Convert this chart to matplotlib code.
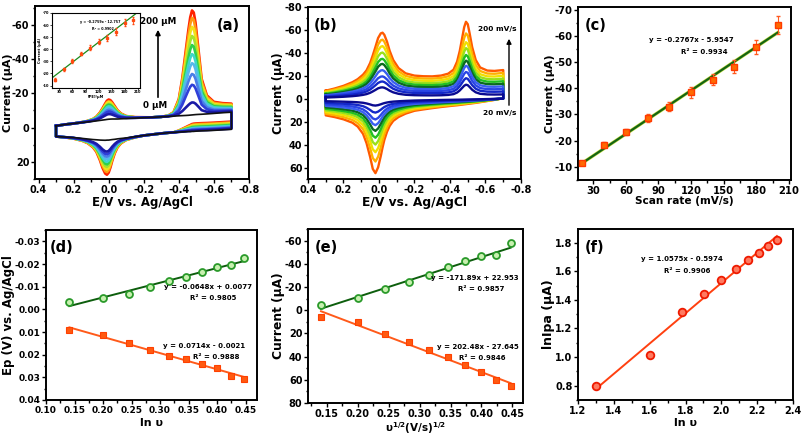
import numpy as np
import matplotlib
matplotlib.use('Agg')
import matplotlib.pyplot as plt
from matplotlib.ticker import MultipleLocator, FormatStrFormatter

plt.rcParams['font.family'] = ['DejaVu Sans']
plt.rcParams['font.weight'] = 'bold'
plt.rcParams['axes.labelweight'] = 'bold'
plt.rcParams['axes.unicode_minus'] = False
plt.rcParams['mathtext.fontset'] = 'dejavusans'
plt.rcParams['mathtext.default'] = 'bf'

W, H = 803, 438

# ---------------- Panel (a) data : CVs at increasing concentration ----------------
E_a = [0.30, 0.25, 0.20, 0.15, 0.12, 0.09, 0.07, 0.05, 0.035, 0.02, 0.01, 0.00, -0.01, -0.02,
       -0.035, -0.05, -0.07, -0.10, -0.15, -0.20, -0.25, -0.30, -0.34, -0.37, -0.40, -0.42,
       -0.44, -0.455, -0.465, -0.475, -0.485, -0.495, -0.51, -0.53, -0.56, -0.60, -0.65, -0.70]
base_up_a = [-1.0, -1.8, -2.4, -3.0, -3.3, -3.6, -3.8, -4.0, -4.1, -4.2, -4.3, -4.4, -4.5, -4.6,
             -4.7, -4.8, -5.0, -5.2, -5.5, -5.8, -6.0, -6.3, -6.5, -6.7, -6.9, -7.0,
             -7.1, -7.2, -7.3, -7.4, -7.5, -7.6, -7.7, -7.8, -8.0, -8.3, -8.7, -9.0]
prof1_a = [0, 0, 0, 0.02, 0.05, 0.12, 0.22, 0.40, 0.60, 0.82, 0.95, 1.0, 0.96, 0.85,
           0.65, 0.45, 0.27, 0.13, 0.05, 0.02, 0, 0, 0, 0, 0, 0,
           0, 0, 0, 0, 0, 0, 0, 0, 0, 0, 0, 0]
prof2_a = [0, 0, 0, 0, 0, 0, 0, 0, 0, 0, 0, 0, 0, 0,
           0, 0, 0, 0, 0, 0, 0, 0, 0.01, 0.04, 0.17, 0.38,
           0.66, 0.85, 0.95, 1.0, 0.96, 0.85, 0.60, 0.27, 0.10, 0.03, 0.01, 0]
tail_up_a = [0, 0, 0, 0, 0, 0, 0, 0, 0, 0, 0, 0, 0, 0,
             0, 0, 0, 0, 0, 0, 0, 0, 0, 0, 0, 0,
             0, 0.2, 0.4, 0.6, 0.8, 0.9, 1, 1, 1, 1, 1, 1]
base_dn_a = [5.2, 5.5, 5.8, 6.3, 6.6, 6.9, 7.0, 7.1, 7.1, 7.1, 7.0, 7.0, 6.9, 6.8,
             6.7, 6.5, 6.3, 6.0, 5.3, 4.6, 4.0, 3.4, 3.0, 2.8, 2.6, 2.5,
             2.4, 2.3, 2.3, 2.2, 2.2, 2.1, 2.0, 1.9, 1.8, 1.6, 1.3, 1.0]
prof3_a = [0, 0.01, 0.03, 0.07, 0.12, 0.22, 0.35, 0.58, 0.80, 0.96, 1.0, 0.94, 0.80, 0.62,
           0.40, 0.25, 0.14, 0.06, 0.02, 0, 0, 0, 0, 0, 0, 0,
           0, 0, 0, 0, 0, 0, 0, 0, 0, 0, 0, 0]
tail_dn_a = [0, 0, 0, 0, 0, 0, 0, 0, 0, 0, 0, 0, 0, 0,
             0, 0, 0, 0, 0, 0, 0, 0, 0, 0, 0.2, 0.4,
             0.6, 0.75, 0.85, 0.95, 1, 1, 1, 1, 1, 1, 1, 1]
conc_a = [0, 20, 40, 60, 80, 100, 120, 140, 160, 180, 200]
h1_a = [0.5, 3.5, 5, 6, 7, 8, 9, 9.5, 10.5, 11, 12]
h2_a = [0, 7, 17, 23, 29, 34, 39, 44, 49, 54, 58]
tu_a = [0, 0.5, 1, 1.5, 2, 2.5, 3, 3.5, 4, 4.5, 5]
h3_a = [0.3, 7, 8.5, 10, 11.5, 13, 14.5, 16, 17.5, 19, 20.5]
td_a = [0, 0.4, 0.8, 1.2, 1.6, 2.0, 2.5, 3.0, 3.5, 4.0, 4.5]
colors_a = ['#111111', '#1a1aa6', '#2f3fd8', '#4a7ee8', '#55b8ec', '#3ed6c8',
            '#2fd04a', '#a6e22e', '#f2e21a', '#ff9a12', '#ff2200']

# inset (a)
conc_in = [20, 40, 60, 80, 100, 120, 140, 160, 180, 200]
ipa_in = [-15, -23.3, -30.3, -36.4, -41.4, -46.4, -49.7, -54.7, -62, -64]
err_in = [1, 1.5, 1.5, 1.5, 2, 2, 2.5, 2.5, 3, 3]
slope_in, icpt_in = -0.2759, -12.757

# ---------------- Panel (b) data : CVs at increasing scan rate ----------------
E_b = [0.30, 0.25, 0.20, 0.15, 0.12, 0.09, 0.07, 0.05, 0.035, 0.02, 0.005, -0.01, -0.02, -0.03,
       -0.045, -0.06, -0.08, -0.11, -0.15, -0.20, -0.25, -0.30, -0.35, -0.39, -0.42, -0.44,
       -0.455, -0.47, -0.48, -0.49, -0.50, -0.51, -0.525, -0.545, -0.57, -0.61, -0.65, -0.70]
base_up_b = [-7, -8.5, -10, -11.5, -12.5, -13.5, -14, -14.5, -15, -15.3, -15.6, -15.9, -16.1, -16.3,
             -16.6, -16.9, -17.2, -17.6, -18.0, -18.5, -19.0, -19.5, -20.2, -20.5, -20.8, -21.0,
             -21.2, -21.4, -21.5, -21.6, -21.8, -22.0, -22.2, -22.4, -22.7, -23.2, -23.8, -25.0]
prof1_b = [0, 0.01, 0.03, 0.07, 0.11, 0.18, 0.26, 0.40, 0.55, 0.72, 0.90, 0.99, 1.0, 0.95,
           0.80, 0.60, 0.40, 0.22, 0.10, 0.04, 0.015, 0, 0, 0, 0, 0,
           0, 0, 0, 0, 0, 0, 0, 0, 0, 0, 0, 0]
prof2_b = [0, 0, 0, 0, 0, 0, 0, 0, 0, 0, 0, 0, 0, 0,
           0, 0, 0, 0, 0, 0, 0, 0, 0, 0.03, 0.10, 0.25,
           0.45, 0.72, 0.90, 1.0, 0.95, 0.78, 0.50, 0.25, 0.10, 0.03, 0.01, 0]
base_dn_b = [14.5, 15.5, 16.5, 17, 17, 17, 17, 16.8, 16.6, 16.4, 16.2, 16.0, 15.8, 15.6,
             15.3, 15.0, 14.5, 13.5, 12.0, 10.5, 9.3, 8.2, 7.2, 6.5, 6.0, 5.7,
             5.4, 5.1, 4.9, 4.7, 4.5, 4.3, 4.0, 3.6, 3.0, 2.0, 1.0, -0.5]
prof3_b = [0, 0.01, 0.03, 0.08, 0.15, 0.28, 0.45, 0.70, 0.92, 1.0, 0.90, 0.70, 0.55, 0.42,
           0.28, 0.18, 0.10, 0.05, 0.02, 0, 0, 0, 0, 0, 0, 0,
           0, 0, 0, 0, 0, 0, 0, 0, 0, 0, 0, 0]
rate_b = [20, 40, 60, 80, 100, 120, 140, 160, 180, 200]
cap_b = [0.15, 0.25, 0.34, 0.43, 0.52, 0.61, 0.70, 0.80, 0.90, 1.0]
h1_b = [7.5, 11, 14, 18, 22, 25, 29, 33, 37, 41.5]
h2_b = [9, 12.5, 16, 19.5, 22, 25, 29, 32, 37.5, 45.5]
h3_b = [3.5, 8, 12.5, 16, 19.5, 24, 28.5, 33.5, 40, 48.5]
colors_b = ['#0a0a90', '#1428c8', '#2a46e6', '#3a60f0', '#0b6b1e', '#22c022',
            '#9be01a', '#f0e000', '#ffb000', '#ff5a00']

# ---------------- Panel (c) ----------------
scan_c = [20, 40, 60, 80, 100, 120, 140, 160, 180, 200]
ipa_c = [-11.6, -18.5, -23.3, -28.7, -33.0, -38.4, -43.2, -48.2, -55.7, -64.1]
err_c = [0.5, 1.0, 1.0, 1.4, 1.6, 2.0, 2.1, 2.4, 2.7, 3.5]
slope_c, icpt_c = -0.2767, -5.9547

# ---------------- Panels (d), (e), (f) ----------------
sqrt_v = [0.141, 0.200, 0.245, 0.283, 0.316, 0.346, 0.374, 0.400, 0.424, 0.447]
epa_d = [-0.0032, -0.0050, -0.0069, -0.0100, -0.0126, -0.0141, -0.0164, -0.0187, -0.0197, -0.0226]
epc_d = [0.0090, 0.0115, 0.0149, 0.0179, 0.0204, 0.0220, 0.0241, 0.0257, 0.0292, 0.0307]
fit_da = (-0.0648, 0.0077)
fit_dc = (0.0714, -0.0021)

ipa_e = [-4.8, -10.5, -18.6, -24.0, -30.7, -37.0, -42.2, -47.0, -47.6, -58.0]
ipc_e = [6.1, 10.2, 20.2, 27.4, 34.6, 40.6, 47.5, 53.3, 60.0, 65.6]
fit_ea = (-171.89, 22.953)
fit_ec = (202.48, -27.645)

lnv_f = [1.30, 1.603, 1.78, 1.903, 2.00, 2.08, 2.148, 2.208, 2.26, 2.31]
lnipa_f = [0.80, 1.015, 1.315, 1.443, 1.540, 1.613, 1.676, 1.730, 1.777, 1.816]
fit_f = (1.0575, -0.5974)

# ---------------- figure ----------------
fig = plt.figure(figsize=(W / 100, H / 100), dpi=100)


def add_ax(l, t, r, b):
    ax = fig.add_axes([l / W, 1 - b / H, (r - l) / W, (b - t) / H])
    ax._px = (l, t, r, b)
    return ax


def style(ax, tick_fs=7.0, lw=1.4):
    for s in ax.spines.values():
        s.set_linewidth(lw)
    ax.tick_params(which='both', direction='out', width=1.0, labelsize=tick_fs, pad=1)
    ax.tick_params(which='major', length=3)
    ax.tick_params(which='minor', length=1.8)
    for lab in ax.get_xticklabels() + ax.get_yticklabels():
        lab.set_fontweight('bold')


def labels(ax, xl, yl, xfs, yfs, x_top_px, y_right_px):
    l, t, r, b = ax._px
    ax.set_xlabel(xl, fontsize=xfs)
    ax.set_ylabel(yl, fontsize=yfs)
    ax.xaxis.set_label_coords(0.5, -(x_top_px - b) / (b - t))
    ax.yaxis.set_label_coords((y_right_px - l) / (r - l), 0.5)


def ftext(x, y, s, fs=5.0, **kw):
    fig.text(x / W, 1 - y / H, s, fontsize=fs, fontweight='bold', ha='center', va='center', **kw)


# ----- (a)
ax = add_ax(35, 6, 249, 179)
Ea = np.array(E_a)
for k in range(len(conc_a) - 1, -1, -1):
    up = np.array(base_up_a) - h1_a[k] * np.array(prof1_a) - h2_a[k] * np.array(prof2_a) \
        - tu_a[k] * np.array(tail_up_a)
    dn = np.array(base_dn_a) + h3_a[k] * np.array(prof3_a) - td_a[k] * np.array(tail_dn_a)
    xs = np.concatenate([Ea, Ea[::-1]])
    ys = np.concatenate([up, dn[::-1]])
    ax.plot(np.append(xs, xs[0]), np.append(ys, ys[0]), color=colors_a[k],
            lw=1.9 if k else 1.2, solid_joinstyle='round', zorder=3 + (10 - k))
ax.set_xlim(0.42, -0.8)
ax.set_ylim(30, -71)
ax.xaxis.set_major_locator(MultipleLocator(0.2))
ax.xaxis.set_minor_locator(MultipleLocator(0.1))
ax.xaxis.set_major_formatter(FormatStrFormatter('%.1f'))
ax.yaxis.set_major_locator(MultipleLocator(20))
ax.yaxis.set_minor_locator(MultipleLocator(10))
style(ax, tick_fs=6.9)
labels(ax, 'E/V vs. Ag/AgCl', 'Current (µA)', 8.5, 8.0, 196, 13.5)
ax.annotate('', xy=(158 / W, 1 - 27 / H), xytext=(158 / W, 1 - 100 / H),
            xycoords='figure fraction', textcoords='figure fraction',
            arrowprops=dict(arrowstyle='-|>', color='black', lw=1.2, mutation_scale=7))
ftext(158, 22, '200 µM', fs=6.3)
ftext(155, 106, '0 µM', fs=6.3)
ftext(228, 25, '(a)', fs=10.5)

# inset
axi = add_ax(52, 13, 140, 88)
axi.plot([15, 210], [slope_in * 15 + icpt_in, slope_in * 210 + icpt_in], color='#1a8a1a', lw=0.9)
axi.errorbar(conc_in, ipa_in, yerr=err_in, fmt='s', ms=2, color='#ff4a10', ecolor='#ff4a10',
             elinewidth=0.6, capsize=1)
axi.set_xlim(13, 215)
axi.set_ylim(-8, -70)
axi.xaxis.set_major_locator(MultipleLocator(30))
axi.yaxis.set_major_locator(MultipleLocator(10))
for s in axi.spines.values():
    s.set_linewidth(0.8)
axi.tick_params(which='both', direction='out', width=0.5, length=1.2, labelsize=2.6, pad=0.5)
axi.set_xlabel('[PE]/µM', fontsize=2.6, labelpad=0.5)
axi.set_ylabel('Current (µA)', fontsize=2.6, labelpad=0.5)
axi.text(0.55, 0.86, 'y = -0.2759x - 12.757', transform=axi.transAxes, fontsize=2.4,
         ha='center', fontweight='bold')
axi.text(0.58, 0.78, 'R² = 0.9902', transform=axi.transAxes, fontsize=2.4,
         ha='center', fontweight='bold')

# ----- (b)
ax = add_ax(308, 7, 521, 179)
Eb = np.array(E_b)
for k in range(len(rate_b) - 1, -1, -1):
    up = cap_b[k] * np.array(base_up_b) - h1_b[k] * np.array(prof1_b) - h2_b[k] * np.array(prof2_b)
    dn = cap_b[k] * np.array(base_dn_b) + h3_b[k] * np.array(prof3_b)
    xs = np.concatenate([Eb, Eb[::-1]])
    ys = np.concatenate([up, dn[::-1]])
    ax.plot(np.append(xs, xs[0]), np.append(ys, ys[0]), color=colors_b[k], lw=1.7,
            solid_joinstyle='round')
ax.set_xlim(0.4, -0.8)
ax.set_ylim(70, -80)
ax.xaxis.set_major_locator(MultipleLocator(0.2))
ax.xaxis.set_minor_locator(MultipleLocator(0.1))
ax.xaxis.set_major_formatter(FormatStrFormatter('%.1f'))
ax.yaxis.set_major_locator(MultipleLocator(20))
ax.yaxis.set_minor_locator(MultipleLocator(10))
style(ax)
labels(ax, 'E/V vs. Ag/AgCl', 'Current (µA)', 8.8, 8.3, 196, 285)
ax.annotate('', xy=(509 / W, 1 - 36 / H), xytext=(509 / W, 1 - 108 / H),
            xycoords='figure fraction', textcoords='figure fraction',
            arrowprops=dict(arrowstyle='-|>', color='black', lw=1.0, mutation_scale=7))
ftext(497, 29, '200 mV/s', fs=5.3)
ftext(500, 113, '20 mV/s', fs=5.3)
ftext(326, 25, '(b)', fs=10.5)

# ----- (c)
ax = add_ax(578, 7, 791, 180)
ax.plot([scan_c[0], scan_c[-1]], [slope_c * scan_c[0] + icpt_c, slope_c * scan_c[-1] + icpt_c],
        color='#c8e040', lw=2.4, zorder=2)
ax.plot([scan_c[0], scan_c[-1]], [slope_c * scan_c[0] + icpt_c, slope_c * scan_c[-1] + icpt_c],
        color='#146414', lw=1.6, zorder=3)
ax.errorbar(scan_c, ipa_c, yerr=err_c, fmt='s', ms=4.5, mfc='#ff6a00', mec='#ff3a00',
            ecolor='#ff5a20', elinewidth=0.8, capsize=1.5, zorder=4)
ax.set_xlim(16, 212)
ax.set_ylim(-5, -71)
ax.xaxis.set_major_locator(MultipleLocator(30))
ax.xaxis.set_minor_locator(MultipleLocator(15))
ax.yaxis.set_major_locator(MultipleLocator(10))
ax.yaxis.set_minor_locator(MultipleLocator(5))
style(ax, tick_fs=7.2)
labels(ax, 'Scan rate (mV/s)', 'Current (µA)', 7.6, 8.0, 196, 555)
ftext(691, 40, 'y = -0.2767x - 5.9547')
ftext(704, 52, 'R² = 0.9934')
ftext(596, 25, '(c)', fs=10.5)

xd = np.array([sqrt_v[0], sqrt_v[-1]])

# ----- (d)
ax = add_ax(46, 230, 257, 400)
ax.plot(xd, fit_da[0] * xd + fit_da[1], color='#0d5e0d', lw=1.4)
ax.plot(xd, fit_dc[0] * xd + fit_dc[1], color='#ff5a1a', lw=1.4)
ax.plot(sqrt_v, epa_d, 'o', ms=5, mfc='#c8f0b0', mec='#2a9a2a', mew=1.3)
ax.plot(sqrt_v, epc_d, 's', ms=5, mfc='#ff5a10', mec='#ff4000', mew=0.8)
ax.set_xlim(0.10, 0.47)
ax.set_ylim(0.04, -0.035)
ax.xaxis.set_major_locator(MultipleLocator(0.05))
ax.xaxis.set_minor_locator(MultipleLocator(0.025))
ax.xaxis.set_major_formatter(FormatStrFormatter('%.2f'))
ax.yaxis.set_major_locator(MultipleLocator(0.01))
ax.yaxis.set_minor_locator(MultipleLocator(0.005))
ax.yaxis.set_major_formatter(FormatStrFormatter('%.2f'))
style(ax, tick_fs=6.5)
labels(ax, 'ln υ', 'Ep (V) vs. Ag/AgCl', 8, 8.5, 418, 15)
ftext(208, 287, 'y = -0.0648x + 0.0077')
ftext(213, 298, 'R² = 0.9805')
ftext(204, 346, 'y = 0.0714x - 0.0021')
ftext(216, 357, 'R² = 0.9888')
ftext(62, 247, '(d)', fs=10.5)

# ----- (e)
ax = add_ax(308, 229, 523, 403)
ax.plot(xd, fit_ea[0] * xd + fit_ea[1], color='#0d5e0d', lw=1.4)
ax.plot(xd, fit_ec[0] * xd + fit_ec[1], color='#ff5a1a', lw=1.4)
ax.plot(sqrt_v, ipa_e, 'o', ms=5, mfc='#c8f0b0', mec='#2a9a2a', mew=1.3)
ax.plot(sqrt_v, ipc_e, 's', ms=5, mfc='#ff5a10', mec='#ff4000', mew=0.8)
ax.set_xlim(0.12, 0.467)
ax.set_ylim(80, -70)
ax.xaxis.set_major_locator(MultipleLocator(0.05))
ax.xaxis.set_minor_locator(MultipleLocator(0.025))
ax.xaxis.set_major_formatter(FormatStrFormatter('%.2f'))
ax.yaxis.set_major_locator(MultipleLocator(20))
ax.yaxis.set_minor_locator(MultipleLocator(10))
style(ax)
labels(ax, r'υ$^{1/2}$(V/s)$^{1/2}$', 'Current (µA)', 7.5, 8.8, 420, 285)
ftext(475, 278, 'y = -171.89x + 22.953')
ftext(481, 289, 'R² = 0.9857')
ftext(478, 347, 'y = 202.48x - 27.645')
ftext(482, 358, 'R² = 0.9846')
ftext(326, 247, '(e)', fs=10.5)

# ----- (f)
ax = add_ax(578, 229, 793, 400)
xf = np.array([lnv_f[0], lnv_f[-1]])
ax.plot(xf, fit_f[0] * xf + fit_f[1], color='#ff4010', lw=1.4)
ax.plot(lnv_f, lnipa_f, 'o', ms=5.5, mfc='#ff7a60', mec='#ee1a00', mew=1.3)
ax.set_xlim(1.2, 2.4)
ax.set_ylim(0.7, 1.895)
ax.xaxis.set_major_locator(MultipleLocator(0.2))
ax.xaxis.set_minor_locator(MultipleLocator(0.1))
ax.xaxis.set_major_formatter(FormatStrFormatter('%.1f'))
ax.yaxis.set_major_locator(MultipleLocator(0.2))
ax.yaxis.set_minor_locator(MultipleLocator(0.1))
ax.yaxis.set_major_formatter(FormatStrFormatter('%.1f'))
style(ax)
labels(ax, 'ln υ', 'lnIpa (µA)', 8, 9.0, 418, 555)
ftext(682, 259, 'y = 1.0575x - 0.5974')
ftext(687, 271, 'R² = 0.9906')
ftext(595, 247, '(f)', fs=10.5)

fig.savefig('out.png', dpi=100)
